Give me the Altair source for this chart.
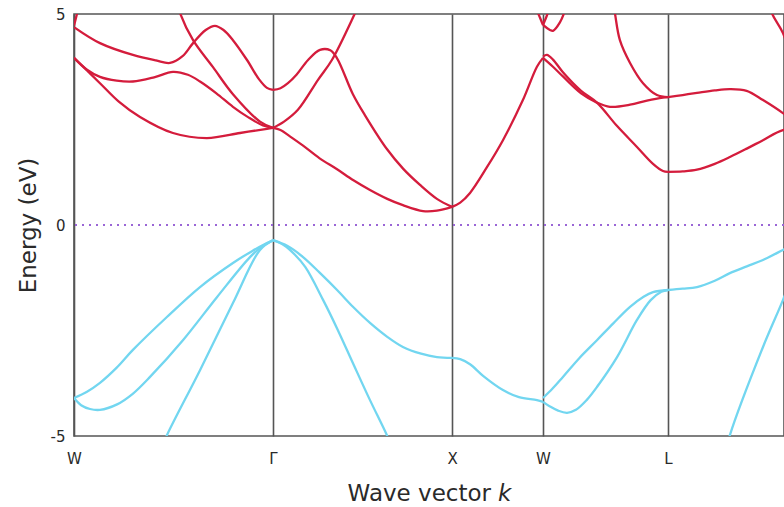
import altair as alt
import pandas as pd

# High-symmetry points along the k-path
sym_labels = ["W", "Γ", "X", "W", "L", "Γ"]
sym_k = [0.0, 1.118, 2.124, 2.635, 3.337, 4.124]
k_view_max = 3.989          # picture is cut just before the last Γ
e_ticks = [-5, 0, 5]

# ---------------- conduction bands ----------------
# W -> Γ
cwg_a_k = [0, 0.073, 0.146, 0.250, 0.371, 0.556, 0.747, 0.933, 1.084, 1.118]
cwg_a_e = [3.96, 3.66, 3.36, 2.93, 2.56, 2.18, 2.06, 2.18, 2.28, 2.30]
cwg_b_k = [0, 0.073, 0.146, 0.240, 0.331, 0.450, 0.556, 0.640, 0.708, 0.800, 0.893, 0.980, 1.062, 1.118]
cwg_b_e = [3.96, 3.68, 3.51, 3.42, 3.40, 3.50, 3.63, 3.56, 3.40, 3.12, 2.80, 2.55, 2.36, 2.30]
cwg_c_k = [0, 0.146, 0.331, 0.460, 0.539, 0.610, 0.669, 0.740, 0.792, 0.840, 0.893, 0.972, 1.040, 1.084, 1.118]
cwg_c_e = [4.69, 4.31, 4.03, 3.90, 3.84, 4.00, 4.31, 4.62, 4.72, 4.62, 4.38, 3.91, 3.45, 3.25, 3.20]
cwg_d_k = [0.56, 0.596, 0.669, 0.781, 0.893, 1.045, 1.118]
cwg_d_e = [5.6, 5.02, 4.38, 3.74, 3.10, 2.45, 2.30]
cwg_e_k = [0, 0.034]
cwg_e_e = [4.72, 5.3]
# Γ -> X
cgx_a_k = [1.118, 1.160, 1.213, 1.287, 1.380, 1.478, 1.570, 1.663, 1.760, 1.848, 1.961, 2.039, 2.124]
cgx_a_e = [2.30, 2.25, 2.10, 1.88, 1.58, 1.32, 1.06, 0.83, 0.62, 0.47, 0.33, 0.34, 0.43]
cgx_b_k = [1.118, 1.180, 1.258, 1.371, 1.449, 1.579, 1.62]
cgx_b_e = [2.30, 2.45, 2.73, 3.44, 3.91, 5.02, 5.4]
cgx_c_k = [1.118, 1.160, 1.202, 1.250, 1.315, 1.382, 1.440, 1.478, 1.567, 1.635, 1.758, 1.850, 1.944, 2.039, 2.124]
cgx_c_e = [3.20, 3.24, 3.36, 3.56, 3.91, 4.15, 4.14, 3.95, 3.10, 2.60, 1.80, 1.33, 0.95, 0.62, 0.43]
# X -> W
cxw_a_k = [2.124, 2.170, 2.225, 2.320, 2.410, 2.522, 2.601, 2.635]
cxw_a_e = [0.43, 0.53, 0.76, 1.37, 2.01, 2.96, 3.75, 3.96]
cxw_b_k = [2.58, 2.635]
cxw_b_e = [5.3, 4.74]
# W -> L
cwl_a_k = [2.635, 2.691, 2.747, 2.849, 2.938, 3.011, 3.124, 3.219, 3.309, 3.337]
cwl_a_e = [3.96, 3.75, 3.52, 3.12, 2.90, 2.80, 2.85, 2.95, 3.02, 3.03]
cwl_b_k = [2.635, 2.657, 2.691, 2.747, 2.849, 2.938, 3.050, 3.163, 3.253, 3.309, 3.337]
cwl_b_e = [3.99, 4.03, 3.92, 3.62, 3.18, 2.90, 2.35, 1.85, 1.45, 1.28, 1.26]
cwl_c_k = [3.02, 3.039, 3.067, 3.124, 3.197, 3.275, 3.337]
cwl_c_e = [5.5, 5.02, 4.38, 3.84, 3.36, 3.08, 3.03]
cwl_d_k = [2.635, 2.674, 2.691, 2.730, 2.760]
cwl_d_e = [4.74, 4.62, 4.60, 4.80, 5.1]
cwl_e_k = [2.635, 2.660, 2.690]
cwl_e_e = [4.74, 5.0, 5.4]
# L -> Γ
clg_a_k = [3.337, 3.420, 3.500, 3.600, 3.685, 3.779, 3.871, 3.983, 4.05, 4.124]
clg_a_e = [3.03, 3.08, 3.13, 3.19, 3.22, 3.18, 2.96, 2.65, 2.42, 2.30]
clg_b_k = [3.337, 3.420, 3.500, 3.600, 3.685, 3.780, 3.871, 3.983, 4.124]
clg_b_e = [1.26, 1.27, 1.31, 1.45, 1.61, 1.81, 2.01, 2.25, 2.30]
clg_c_k = [3.90, 3.921, 3.983, 4.07, 4.124]
clg_c_e = [5.4, 5.02, 4.55, 3.50, 3.20]

# ---------------- valence bands ----------------
vwg_a_k = [0, 0.073, 0.146, 0.240, 0.331, 0.522, 0.708, 0.893, 1.000, 1.084, 1.118]
vwg_a_e = [-4.10, -3.95, -3.74, -3.38, -2.96, -2.18, -1.47, -0.90, -0.62, -0.43, -0.36]
vwg_b_k = [0, 0.040, 0.090, 0.146, 0.242, 0.330, 0.427, 0.612, 0.803, 0.989, 1.060, 1.118]
vwg_b_e = [-4.10, -4.27, -4.36, -4.38, -4.25, -4.00, -3.60, -2.73, -1.71, -0.76, -0.50, -0.36]
vwg_c_k = [0.48, 0.522, 0.708, 0.893, 1.045, 1.118]
vwg_c_e = [-5.4, -4.98, -3.44, -1.85, -0.59, -0.36]
vgx_a_k = [1.118, 1.200, 1.287, 1.380, 1.478, 1.570, 1.663, 1.760, 1.848, 1.950, 2.039, 2.124]
vgx_a_e = [-0.36, -0.50, -0.76, -1.13, -1.54, -1.95, -2.32, -2.65, -2.89, -3.05, -3.13, -3.15]
vgx_b_k = [1.118, 1.180, 1.240, 1.300, 1.400, 1.478, 1.570, 1.663, 1.758, 1.80]
vgx_b_e = [-0.36, -0.48, -0.70, -1.00, -1.78, -2.45, -3.30, -4.15, -4.98, -5.4]
vxw_a_k = [2.124, 2.170, 2.225, 2.300, 2.410, 2.500, 2.601, 2.635]
vxw_a_e = [-3.15, -3.18, -3.30, -3.58, -3.91, -4.08, -4.15, -4.19]
vwl_a_k = [2.635, 2.690, 2.747, 2.840, 2.938, 3.030, 3.124, 3.200, 3.253, 3.337]
vwl_a_e = [-4.10, -3.87, -3.60, -3.15, -2.73, -2.33, -1.94, -1.70, -1.59, -1.54]
vwl_b_k = [2.635, 2.674, 2.720, 2.770, 2.820, 2.880, 2.938, 3.051, 3.163, 3.240, 3.300, 3.337]
vwl_b_e = [-4.19, -4.30, -4.40, -4.45, -4.38, -4.15, -3.84, -3.13, -2.25, -1.78, -1.58, -1.54]
vlg_a_k = [3.337, 3.420, 3.500, 3.600, 3.685, 3.780, 3.871, 3.983, 4.06, 4.124]
vlg_a_e = [-1.54, -1.51, -1.47, -1.32, -1.14, -0.98, -0.83, -0.59, -0.42, -0.36]
vlg_b_k = [3.66, 3.685, 3.871, 3.983, 4.06, 4.124]
vlg_b_e = [-5.4, -4.98, -2.89, -1.78, -0.95, -0.36]

series = [
    ("conduction", cwg_a_k, cwg_a_e), ("conduction", cwg_b_k, cwg_b_e),
    ("conduction", cwg_c_k, cwg_c_e), ("conduction", cwg_d_k, cwg_d_e),
    ("conduction", cwg_e_k, cwg_e_e),
    ("conduction", cgx_a_k, cgx_a_e), ("conduction", cgx_b_k, cgx_b_e),
    ("conduction", cgx_c_k, cgx_c_e),
    ("conduction", cxw_a_k, cxw_a_e), ("conduction", cxw_b_k, cxw_b_e),
    ("conduction", cwl_a_k, cwl_a_e), ("conduction", cwl_b_k, cwl_b_e),
    ("conduction", cwl_c_k, cwl_c_e), ("conduction", cwl_d_k, cwl_d_e),
    ("conduction", cwl_e_k, cwl_e_e),
    ("conduction", clg_a_k, clg_a_e), ("conduction", clg_b_k, clg_b_e),
    ("conduction", clg_c_k, clg_c_e),
    ("valence", vwg_a_k, vwg_a_e), ("valence", vwg_b_k, vwg_b_e),
    ("valence", vwg_c_k, vwg_c_e),
    ("valence", vgx_a_k, vgx_a_e), ("valence", vgx_b_k, vgx_b_e),
    ("valence", vxw_a_k, vxw_a_e),
    ("valence", vwl_a_k, vwl_a_e), ("valence", vwl_b_k, vwl_b_e),
    ("valence", vlg_a_k, vlg_a_e), ("valence", vlg_b_k, vlg_b_e),
]

rows = []
for i, (kind, ks, es) in enumerate(series):
    for k, e in zip(ks, es):
        rows.append({"k": k, "E": e, "line": i, "kind": kind})
df = pd.DataFrame(rows)

FONT = "DejaVu Sans"
RED = "#d41c3c"
CYAN = "#72d6f0"
GRID = "#555555"
TEXT = "#2a2a2a"

label_expr = "{}[indexof({}, datum.value)]".format(
    "[" + ",".join("'%s'" % s for s in sym_labels) + "]",
    "[" + ",".join(str(v) for v in sym_k) + "]",
)

x_enc = alt.X(
    "k:Q",
    scale=alt.Scale(domain=[0, k_view_max], nice=False, zero=False),
    axis=alt.Axis(
        values=sym_k, labelExpr=label_expr, grid=True, gridColor=GRID,
        gridWidth=1.6, gridOpacity=1, ticks=False, domain=False,
        labelFontSize=15, labelColor=TEXT, labelPadding=15,
        labelFlush=False, labelOverlap=False, title=None,
    ),
)
y_enc = alt.Y(
    "E:Q",
    scale=alt.Scale(domain=[-5, 5], nice=False),
    axis=alt.Axis(
        values=e_ticks, grid=False, ticks=False, domain=False,
        labelExpr="replace(datum.label, '\u2212', '-')",
        labelFontSize=15, labelColor=TEXT, labelPadding=9,
        title="Energy (eV)", titleFontSize=23, titleFontWeight="normal",
        titleColor=TEXT, titlePadding=10,
    ),
)

bands = alt.Chart(df).mark_line(
    clip=True, interpolate="catmull-rom", strokeWidth=2.3
).encode(
    x=x_enc,
    y=y_enc,
    detail="line:N",
    color=alt.Color("kind:N", scale=alt.Scale(domain=["conduction", "valence"],
                                              range=[RED, CYAN]), legend=None),
)

zero = alt.Chart(pd.DataFrame({"E": [0]})).mark_rule(
    color="#9a66d6", strokeDash=[2, 5], strokeWidth=2.2
).encode(y="E:Q")

xtitle_a = alt.Chart(pd.DataFrame({"t": ["Wave vector"]})).mark_text(
    font=FONT, fontSize=23, color=TEXT, align="right", baseline="alphabetic"
).encode(text="t:N", x=alt.value(417), y=alt.value(487))
xtitle_b = alt.Chart(pd.DataFrame({"t": ["k"]})).mark_text(
    font=FONT, fontSize=23, fontStyle="italic", color=TEXT,
    align="left", baseline="alphabetic"
).encode(text="t:N", x=alt.value(424), y=alt.value(487))

chart = alt.layer(zero, bands, xtitle_a, xtitle_b).properties(
    width=710, height=422,
    autosize=alt.AutoSizeParams(type="none"),
    padding={"left": 74, "top": 14, "right": 0, "bottom": 71},
).configure(font=FONT).configure_view(
    stroke=GRID, strokeWidth=1.6
)

chart.save("out.html", embed_options={"renderer": "svg", "actions": False})
